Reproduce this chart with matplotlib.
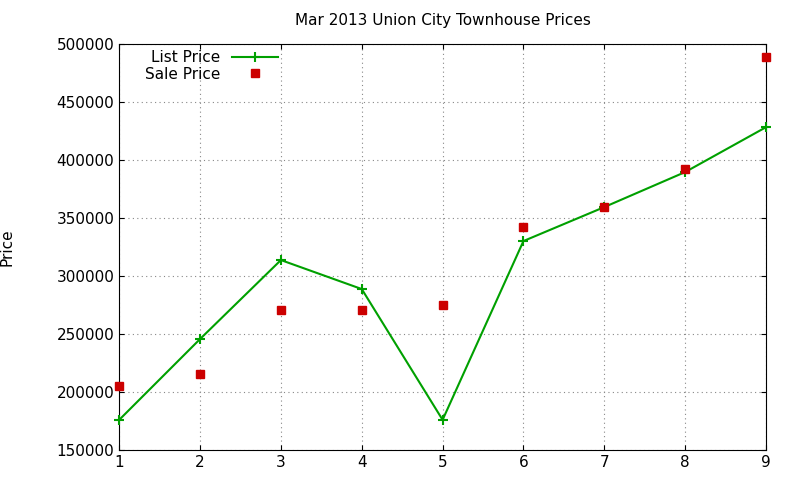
import matplotlib
matplotlib.use("Agg")
import matplotlib.pyplot as plt

x = [1, 2, 3, 4, 5, 6, 7, 8, 9]
list_price = [176000, 245700, 313800, 288800, 176000, 330200, 359500, 389700, 428400]
sale_price = [205200, 215500, 270700, 270700, 275000, 342200, 359500, 392200, 488800]
yticks = [150000, 200000, 250000, 300000, 350000, 400000, 450000, 500000]

fig = plt.figure(figsize=(8, 4.8), dpi=100)
ax = fig.add_axes([0.149, 0.0625, 0.8085, 0.8455])
ax.plot(x, list_price, color="#00a000", marker="+", markersize=7, mew=1.5, lw=1.5, label="List Price", clip_on=False, zorder=3)
ax.plot(x, sale_price, ls="none", marker="s", color="#cc0000", markersize=5.5, label="Sale Price", clip_on=False, zorder=4)
ax.set_xlim(1, 9)
ax.set_ylim(150000, 500000)
ax.set_yticks(yticks)
ax.set_xticks(x)
ax.grid(True, ls=(0, (1, 3)), color="#888888", lw=0.8)
ax.tick_params(direction="in", labelsize=11, top=True, right=True)
ax.set_ylabel("Price", fontsize=11, labelpad=30)
ax.set_title("Mar 2013 Union City Townhouse Prices", fontsize=11, pad=14)
leg = ax.legend(loc="upper left", markerfirst=False, frameon=False, fontsize=11,
                handlelength=3, borderaxespad=0.0, labelspacing=0.1, bbox_to_anchor=(0.03, 1.0))
for t in leg.get_texts():
    t.set_ha("right")
fig.savefig("out.png")
